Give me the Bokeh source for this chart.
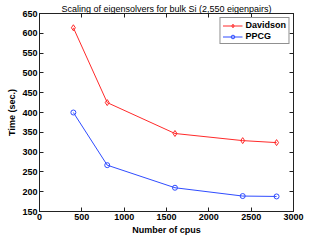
from bokeh.plotting import figure
from bokeh.models import LinearAxis, Range1d, FixedTicker, Legend, LegendItem
from bokeh.embed import file_html
from bokeh.resources import INLINE

cpus = [400, 800, 1600, 2400, 2800]
davidson = [614, 425, 347, 329, 324]
ppcg = [400, 267, 210, 189, 188]
x_ticks = [0, 500, 1000, 1500, 2000, 2500, 3000]
y_ticks = [150, 200, 250, 300, 350, 400, 450, 500, 550, 600, 650]
title_text = "Scaling of eigensolvers for bulk Si (2,550 eigenpairs)"

FONT = "Liberation Sans"
RED = "#ff2a2a"
BLUE = "#2f4cff"
AX = "#222222"

p = figure(frame_width=254, frame_height=198, output_backend="svg", toolbar_location=None,
           x_range=Range1d(0, 3000), y_range=Range1d(150, 650),
           min_border_left=39, min_border_right=18, min_border_top=0, min_border_bottom=0)

p.xgrid.visible = False
p.ygrid.visible = False
p.outline_line_color = AX
p.outline_line_width = 1

xa = p.xaxis[0]
ya = p.yaxis[0]
xa.ticker = FixedTicker(ticks=x_ticks)
ya.ticker = FixedTicker(ticks=y_ticks)
xa.axis_label = "Number of cpus"
ya.axis_label = "Time (sec.)"
for ax in (xa, ya):
    ax.major_tick_in = 4
    ax.major_tick_out = 0
    ax.minor_tick_line_color = None
    ax.axis_line_color = AX
    ax.major_tick_line_color = AX
    ax.major_label_text_font = FONT
    ax.major_label_text_font_style = "bold"
    ax.major_label_text_font_size = "9px"
    ax.major_label_text_color = "black"
    ax.axis_label_text_font = FONT
    ax.axis_label_text_font_style = "bold"
    ax.axis_label_text_font_size = "9px"
    ax.axis_label_text_color = "black"
    ax.major_label_standoff = 2
    ax.axis_label_standoff = 2

top = LinearAxis(ticker=FixedTicker(ticks=x_ticks))
top.axis_label = title_text
top.axis_label_text_font = FONT
top.axis_label_text_font_style = "normal"
top.axis_label_text_font_size = "9px"
top.axis_label_text_color = "black"
top.axis_label_standoff = 0
right = LinearAxis(ticker=FixedTicker(ticks=y_ticks))
for ax in (top, right):
    ax.major_tick_in = 4
    ax.major_tick_out = 0
    ax.minor_tick_line_color = None
    ax.axis_line_color = AX
    ax.major_tick_line_color = AX
    ax.major_label_standoff = 0
    ax.major_label_text_font_size = "0px"
    ax.major_label_text_color = None
p.add_layout(top, "above")
p.add_layout(right, "right")

l1 = p.line(cpus, davidson, line_color=RED, line_width=1)
m1 = p.scatter(cpus, davidson, marker="diamond", size=6, line_color=RED, fill_color=None, line_width=1)
l2 = p.line(cpus, ppcg, line_color=BLUE, line_width=1)
m2 = p.scatter(cpus, ppcg, marker="circle", size=5, line_color=BLUE, fill_color=None, line_width=1)

legend = Legend(items=[LegendItem(label="Davidson", renderers=[l1, m1]),
                       LegendItem(label="PPCG", renderers=[l2, m2])],
                location="top_right")
legend.label_text_font = FONT
legend.label_text_font_style = "bold"
legend.label_text_font_size = "9px"
legend.label_text_color = "black"
legend.label_height = 9
legend.glyph_height = 9
legend.glyph_width = 20
legend.label_standoff = 3
legend.spacing = 1
legend.padding = 2
legend.margin = 4
legend.border_line_color = AX
legend.border_line_width = 1
legend.background_fill_alpha = 1
p.add_layout(legend, "center")

open("out.html", "w").write(file_html(p, INLINE))
